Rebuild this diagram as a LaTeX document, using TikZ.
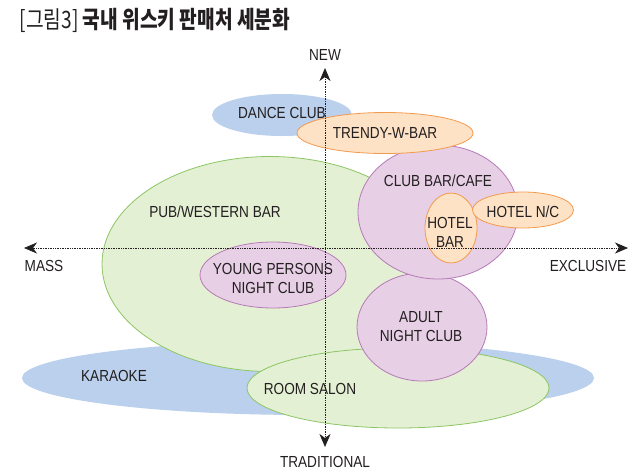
\documentclass[tikz,border=0pt]{standalone}
\usepackage{fontspec}
\setmainfont{Liberation Sans}[FakeStretch=0.85]
\newfontfamily\krfont{Noto Sans CJK KR}[FakeStretch=0.8]
\usetikzlibrary{shapes.geometric,arrows.meta}
\definecolor{inkc}{RGB}{35,31,32}
\definecolor{bluef}{RGB}{186,208,236}
\definecolor{greenf}{RGB}{228,240,212}
\definecolor{greend}{RGB}{140,198,100}
\definecolor{pinkf}{RGB}{231,207,230}
\definecolor{pinkd}{RGB}{182,122,182}
\definecolor{orangef}{RGB}{253,226,198}
\definecolor{oranged}{RGB}{243,154,78}
\begin{document}
\begin{tikzpicture}[x=1pt,y=-1pt,
    font=\fontsize{16}{19}\selectfont, text=inkc,
    blob/.style={ellipse,inner sep=0pt,line width=0.8pt},
    bluebl/.style={blob,fill=bluef},
    greenbl/.style={blob,fill=greenf,draw=greend},
    pinkbl/.style={blob,fill=pinkf,draw=pinkd},
    orangebl/.style={blob,fill=orangef,draw=oranged},
    lbl/.style={align=center,inner sep=0pt},
    axis/.style={densely dotted,line width=0.7pt,inkc,{Stealth[length=13pt,width=11pt,inset=4pt]}-{Stealth[length=13pt,width=11pt,inset=4pt]}}]
    \useasboundingbox (0,0) rectangle (640,475);

    \node[anchor=west,font=\krfont\fontsize{24}{28}\selectfont] (title) at (16,20) {[그림3] \textbf{국내 위스키 판매처 세분화}};

    % back layer
    \node[bluebl,minimum width=572,minimum height=74] (karaoke) at (308,378) {};
    \node[greenbl,minimum width=336,minimum height=215] (pub) at (270,264) {};
    \node[greenbl,minimum width=302,minimum height=80] (salon) at (398,388) {};
    \node[pinkbl,minimum width=130,minimum height=108] (adult) at (422,327) {};
    \node[pinkbl,minimum width=160,minimum height=134] (clubbar) at (438,212) {};
    \node[pinkbl,minimum width=146,minimum height=66] (young) at (273,275) {};
    \node[bluebl,minimum width=140,minimum height=42] (dance) at (282,115) {};
    \node[orangebl,minimum width=176,minimum height=41] (trendy) at (385,133) {};
    \node[orangebl,minimum width=52,minimum height=70] (hotelbar) at (451,228) {};
    \node[orangebl,minimum width=101,minimum height=36] (hotelnc) at (523,210) {};

    % labels
    \node[lbl] (adulttext) at (421,327) {ADULT\\NIGHT CLUB};
    \node[lbl] (youngtext) at (273,278) {YOUNG PERSONS\\NIGHT CLUB};
    \node[lbl] (dancetext) at (282,113) {DANCE CLUB};
    \node[lbl] (trendytext) at (385,133) {TRENDY-W-BAR};
    \node[lbl] (hotelbartext) at (450,232) {HOTEL\\BAR};
    \node[lbl] (hotelnctext) at (523,212) {HOTEL N/C};
    \node[lbl] (pubtext) at (215,212) {PUB/WESTERN BAR};
    \node[lbl] (clubtext) at (438,181) {CLUB BAR/CAFE};
    \node[lbl] (karaoketext) at (114,376) {KARAOKE};
    \node[lbl] (salontext) at (310,389) {ROOM SALON};

    % axes
    \coordinate (top) at (325,68);
    \coordinate (bottom) at (325,447);
    \coordinate (left) at (24,248);
    \coordinate (right) at (628,248);
    \draw[axis] (bottom) -- (top);
    \draw[axis] (left) -- (right);
    \node (new) at (325,55) {NEW};
    \node (trad) at (325,462) {TRADITIONAL};
    \node (mass) at (44,266) {MASS};
    \node (excl) at (588,266) {EXCLUSIVE};
\end{tikzpicture}
\end{document}
